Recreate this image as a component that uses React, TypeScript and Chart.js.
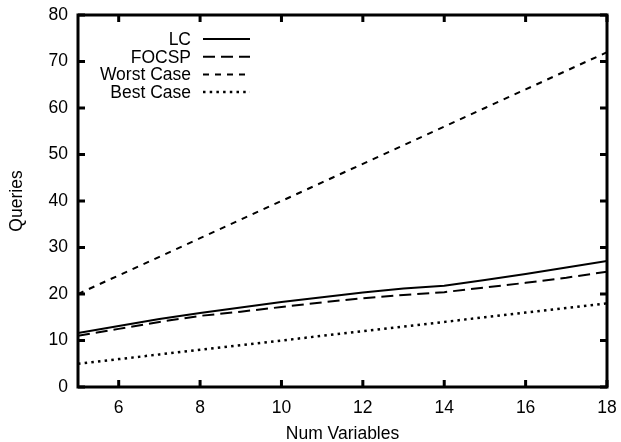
import React, { useEffect, useRef } from "react";
import { Chart, registerables } from "chart.js";

Chart.register(...registerables);

const numVariables = [5, 6, 7, 8, 9, 10, 11, 12, 13, 14, 15, 16, 17, 18];
const lcValues = [11.6, 13.1, 14.6, 15.9, 17.1, 18.3, 19.3, 20.3, 21.2, 21.8, 23.0, 24.3, 25.7, 27.1];
const focspValues = [11.0, 12.5, 14.0, 15.3, 16.2, 17.2, 18.2, 19.1, 19.8, 20.4, 21.4, 22.4, 23.5, 24.8];
const worstValues = [20, 24, 28, 32, 36, 40, 44, 48, 52, 56, 60, 64, 68, 72];
const bestValues = [5, 6, 7, 8, 9, 10, 11, 12, 13, 14, 15, 16, 17, 18];
const xTicks = [6, 8, 10, 12, 14, 16, 18];
const yTicks = [0, 10, 20, 30, 40, 50, 60, 70, 80];

const FONT = "'Liberation Sans', Arial, sans-serif";
const FS = 17.5;

const framePlugin = {
  id: "frame",
  afterDatasetsDraw(chart: any) {
    const { ctx, chartArea: a, scales } = chart;
    ctx.save();
    ctx.strokeStyle = "#000";
    ctx.lineWidth = 3;
    ctx.lineCap = "butt";
    ctx.strokeRect(a.left, a.top, a.right - a.left, a.bottom - a.top);
    const tl = 7;
    ctx.beginPath();
    xTicks.forEach((v) => {
      const px = scales.x.getPixelForValue(v);
      ctx.moveTo(px, a.bottom);
      ctx.lineTo(px, a.bottom - tl);
      ctx.moveTo(px, a.top);
      ctx.lineTo(px, a.top + tl);
    });
    yTicks.forEach((v) => {
      const py = scales.y.getPixelForValue(v);
      ctx.moveTo(a.left, py);
      ctx.lineTo(a.left + tl, py);
      ctx.moveTo(a.right, py);
      ctx.lineTo(a.right - tl, py);
    });
    ctx.stroke();
    ctx.restore();
  },
};

const legendPlugin = {
  id: "customLegend",
  afterDraw(chart: any) {
    const { ctx } = chart;
    const textRight = 191;
    const lineStart = 203;
    const lineEnd = 250;
    const y0 = 39;
    const step = 17.7;
    ctx.save();
    ctx.font = `${FS}px ${FONT}`;
    ctx.fillStyle = "#000";
    ctx.textAlign = "right";
    ctx.textBaseline = "middle";
    chart.data.datasets.forEach((ds: any, i: number) => {
      const y = y0 + i * step;
      ctx.fillText(ds.label, textRight, y + 1);
      ctx.beginPath();
      ctx.setLineDash(ds.borderDash || []);
      ctx.lineWidth = ds.borderWidth;
      ctx.strokeStyle = "#000";
      ctx.moveTo(lineStart, y);
      ctx.lineTo(lineEnd, y);
      ctx.stroke();
    });
    ctx.restore();
  },
};

export default function App() {
  const ref = useRef<HTMLCanvasElement | null>(null);
  useEffect(() => {
    document.body.style.margin = "0";
    const mk = (vals: number[]) => numVariables.map((x, i) => ({ x, y: vals[i] }));
    const chart = new Chart(ref.current!, {
      type: "line",
      data: {
        datasets: [
          { label: "LC", data: mk(lcValues), borderColor: "#000", borderWidth: 2, pointRadius: 0, borderDash: [] },
          { label: "FOCSP", data: mk(focspValues), borderColor: "#000", borderWidth: 2, pointRadius: 0, borderDash: [12, 6] },
          { label: "Worst Case", data: mk(worstValues), borderColor: "#000", borderWidth: 2, pointRadius: 0, borderDash: [6, 6] },
          { label: "Best Case", data: mk(bestValues), borderColor: "#000", borderWidth: 2.5, pointRadius: 0, borderDash: [2.5, 4.2] },
        ],
      },
      options: {
        animation: false,
        responsive: false,
        devicePixelRatio: 1,
        layout: { padding: { top: 15, right: 14, left: 0, bottom: 0 } },
        plugins: { legend: { display: false }, tooltip: { enabled: false } },
        scales: {
          x: {
            type: "linear",
            min: 5,
            max: 18,
            grid: { display: false, drawTicks: false },
            border: { display: false },
            afterBuildTicks: (s: any) => {
              s.ticks = xTicks.map((v) => ({ value: v }));
            },
            afterFit: (s: any) => {
              s.height = 55;
              s.paddingLeft = 0;
              s.paddingRight = 0;
            },
            ticks: { color: "#000", font: { family: FONT, size: FS }, padding: 11, maxRotation: 0 },
            title: { display: true, text: "Num Variables", color: "#000", font: { family: FONT, size: FS }, padding: { top: 0, bottom: -3 } },
          },
          y: {
            type: "linear",
            min: 0,
            max: 80,
            grid: { display: false, drawTicks: false },
            border: { display: false },
            afterBuildTicks: (s: any) => {
              s.ticks = yTicks.map((v) => ({ value: v }));
            },
            afterFit: (s: any) => {
              s.width = 78;
              s.paddingTop = 0;
              s.paddingBottom = 0;
            },
            ticks: { color: "#000", font: { family: FONT, size: FS }, padding: 10 },
            title: { display: true, text: "Queries", color: "#000", font: { family: FONT, size: FS }, padding: { top: 7, bottom: 0 } },
          },
        },
      },
      plugins: [framePlugin, legendPlugin],
    } as any);
    return () => chart.destroy();
  }, []);
  return <canvas ref={ref} width={621} height={442} style={{ display: "block" }} />;
}
